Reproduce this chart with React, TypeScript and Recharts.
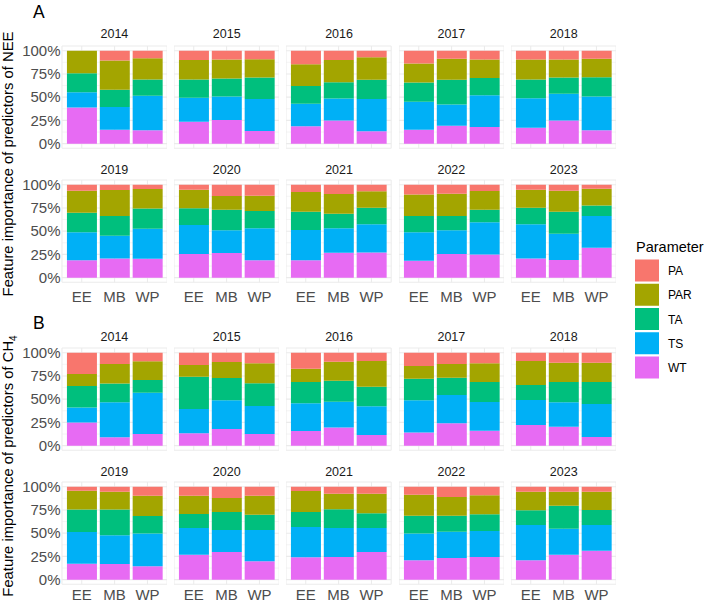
import React from 'react';
import { BarChart, Bar, XAxis, YAxis, CartesianGrid, ReferenceLine } from 'recharts';

// ---------- data ----------
const years = ['2014', '2015', '2016', '2017', '2018', '2019', '2020', '2021', '2022', '2023'];
const sites = ['EE', 'MB', 'WP'];
const parameters = ['PA', 'PAR', 'TA', 'TS', 'WT'];
const paramColors = ['#F8766D', '#A3A500', '#00BF7D', '#00B0F6', '#E76BF3'];
const yTicks = [0, 25, 50, 75, 100];
const yMinorTicks = [12.5, 37.5, 62.5, 87.5];

// Panel A: NEE  (order: year-major, site EE/MB/WP)
const neeWT = [38.9, 15, 14.3, 23.6, 25.4, 13.6, 18.6, 25, 13.2, 15, 19.3, 17.9, 17.1, 25, 14.3, 18.8, 20.6, 20.2, 25.3, 26.4, 18.8, 18.8, 26.7, 27.1, 18.1, 25.3, 24.9, 20.6, 19.1, 32.1];
const neeTS = [16.5, 24.3, 37.1, 25.7, 25.3, 34.3, 24.3, 23.6, 34.7, 30, 22.8, 34.2, 31.8, 28.6, 36.4, 29.9, 24.5, 32.5, 31.4, 24.5, 34.3, 32.5, 26.4, 30.3, 30.6, 25.6, 34.7, 36.8, 28.2, 34.3];
const neeTA = [20.3, 18.6, 17.5, 19.6, 19.3, 23.2, 19.2, 17.5, 20.7, 20.7, 26.5, 18.6, 20, 17.5, 20.7, 21, 21.3, 21.7, 18, 22, 18.7, 19.5, 15.5, 17.7, 17.7, 15.5, 13.3, 17.7, 23.5, 11.2];
const neePAR = [24.3, 31.4, 22.9, 21.1, 20.4, 19.6, 23.3, 23.9, 24.3, 20.4, 22.8, 19.7, 21.5, 19.3, 20, 23.8, 27.8, 20.9, 19.9, 14.8, 16.3, 21.3, 21.3, 17.7, 23.1, 23.9, 20.2, 19.5, 22.7, 18.1];
const neePA = [0, 10.7, 8.2, 10, 9.6, 9.3, 14.6, 10, 7.1, 13.9, 8.6, 9.6, 9.6, 9.6, 8.6, 6.5, 5.8, 4.7, 5.4, 12.3, 11.9, 7.9, 10.1, 7.2, 10.5, 9.7, 6.9, 5.4, 6.5, 4.3];

// Panel B: CH4
const ch4WT = [25, 9, 12.6, 13.3, 18, 12.6, 15.8, 19.4, 11.5, 14, 24.1, 16.1, 22.3, 20.4, 9.4, 17.2, 16.8, 14.3, 26.9, 29.7, 19.7, 24, 24.4, 29.7, 20.8, 23.3, 24.4, 20.8, 26.9, 31.2];
const ch4TS = [15.9, 37.7, 44.4, 26.2, 30.8, 30.1, 29.8, 27.9, 30.8, 34.8, 30.4, 30.9, 26.8, 26.3, 35.4, 34.1, 30.9, 35.2, 28.7, 23.7, 33.7, 32.6, 31.2, 25.9, 28.7, 28.3, 27.9, 38, 27.9, 27.6];
const ch4TA = [23.3, 20, 13.6, 34.7, 24, 24.3, 22.9, 22.6, 21.1, 23.2, 18.6, 21.5, 16.2, 21.8, 23.7, 24, 27.6, 19, 15, 19.4, 16.5, 16.2, 20, 15.7, 19.3, 17.2, 18, 15.8, 24.8, 16.1];
const ch4PAR = [12.9, 21.1, 20.1, 12.6, 17.2, 21.6, 14.3, 20.4, 27.7, 13.7, 14.7, 20.1, 25.8, 20.7, 20.7, 20.4, 19.3, 21.8, 19.7, 15, 20.4, 22.5, 16.9, 21.2, 22.6, 20.1, 20.4, 20, 15, 19.7];
const ch4PA = [22.9, 12.2, 9.3, 13.2, 10, 11.4, 17.2, 9.7, 8.9, 14.3, 12.2, 11.4, 8.9, 10.8, 10.8, 4.3, 5.4, 9.7, 9.7, 12.2, 9.7, 4.7, 7.5, 7.5, 8.6, 11.1, 9.3, 5.4, 5.4, 5.4];

// ---------- layout ----------
const FONT = '"Liberation Sans", Arial, Helvetica, sans-serif';
const PANEL_W = 105.2;
const PANEL_H = 102.3;
const COL_X = [61.8, 174.13, 286.46, 398.79, 511.12];
const ROW_Y = [45.85, 180.05, 348.05, 482.35];
const Y_AXIS_W = 61;
const X_AXIS_H = 30;
const PAD = 10;
const STRIP_BASE = [38.3, 173.7, 341.2, 476.2];

type Series = { WT: number[]; TS: number[]; TA: number[]; PAR: number[]; PA: number[] };
const neeSeries: Series = { WT: neeWT, TS: neeTS, TA: neeTA, PAR: neePAR, PA: neePA };
const ch4Series: Series = { WT: ch4WT, TS: ch4TS, TA: ch4TA, PAR: ch4PAR, PA: ch4PA };

function rowsFor(s: Series, yearIdx: number) {
  return sites.map((site, j) => {
    const k = yearIdx * 3 + j;
    return { site, WT: s.WT[k], TS: s.TS[k], TA: s.TA[k], PAR: s.PAR[k], PA: s.PA[k] };
  });
}

// bottom-to-top stacking order (ggplot puts first level on top)
const stackOrder = [...parameters].reverse();
const tickStyle = { fontSize: 15, fill: '#4D4D4D', fontFamily: FONT };

function Facet(props: { data: any[]; left: number; top: number; showY: boolean; showX: boolean; xMargin: number }) {
  const { data, left, top, showY, showX, xMargin } = props;
  const yw = showY ? Y_AXIS_W : 0;
  const xh = showX ? X_AXIS_H : 0;
  const w = PANEL_W + yw;
  const h = PANEL_H + xh;
  return (
    <div style={{ position: 'absolute', left: left - yw, top, width: w, height: h }}>
      {/* background layer: grid + axes (padded so tick labels are not clipped) */}
      <div style={{ position: 'absolute', left: 0, top: -PAD }}>
        <BarChart
          width={w}
          height={h + 2 * PAD}
          data={data}
          margin={{ top: PAD, right: 0, bottom: PAD, left: 0 }}
          barCategoryGap="5%"
        >
          <CartesianGrid stroke="#EBEBEB" strokeWidth={1.05} />
          {yMinorTicks.map((v) => (
            <ReferenceLine key={v} y={v} stroke="#EBEBEB" strokeWidth={0.55} />
          ))}
          <XAxis
            dataKey="site"
            type="category"
            padding={{ left: 3.3, right: 3.3 }}
            hide={!showX}
            height={xh}
            interval={0}
            tickSize={0}
            tickMargin={xMargin}
            axisLine={false}
            tickLine={false}
            tick={tickStyle}
          />
          <YAxis
            type="number"
            domain={[-5, 105]}
            allowDataOverflow
            ticks={yTicks}
            interval={0}
            hide={!showY}
            width={yw}
            tickFormatter={(v: number) => `${v}%`}
            tickSize={0}
            tickMargin={1.5}
            axisLine={false}
            tickLine={false}
            tick={tickStyle}
          />
        </BarChart>
      </div>
      {/* foreground layer: stacked bars */}
      <div style={{ position: 'absolute', left: 0, top: 0 }}>
        <BarChart width={w} height={h} data={data} margin={{ top: 0, right: 0, bottom: xh, left: yw }} barCategoryGap="5%">
          <XAxis dataKey="site" type="category" padding={{ left: 3.3, right: 3.3 }} hide />
          <YAxis type="number" domain={[-5, 105]} allowDataOverflow ticks={yTicks} hide />
          {stackOrder.map((p) => (
            <Bar key={p} dataKey={p} stackId="a" fill={paramColors[parameters.indexOf(p)]} isAnimationActive={false} />
          ))}
        </BarChart>
      </div>
    </div>
  );
}

export default function App() {
  const facets: React.ReactNode[] = [];
  const panels: { s: Series; rowBase: number }[] = [
    { s: neeSeries, rowBase: 0 },
    { s: ch4Series, rowBase: 2 },
  ];
  panels.forEach(({ s, rowBase }, pi) => {
    years.forEach((yr, yi) => {
      const r = Math.floor(yi / 5);
      const c = yi % 5;
      const row = rowBase + r;
      facets.push(
        <Facet
          key={`${pi}-${yr}`}
          data={rowsFor(s, yi)}
          left={COL_X[c]}
          top={ROW_Y[row]}
          showY={c === 0}
          showX={r === 1}
          xMargin={pi === 0 ? 9 : 5}
        />
      );
    });
  });

  return (
    <div style={{ position: 'absolute', left: 0, top: 0, width: 709, height: 609, background: '#fff', fontFamily: FONT }}>
      {facets}
      <svg width={709} height={609} style={{ position: 'absolute', left: 0, top: 0, pointerEvents: 'none' }}>
        {/* panel tags */}
        <text x={33} y={18} fontSize={17.5} fill="#000" fontFamily={FONT}>A</text>
        <text x={33} y={329} fontSize={17.5} fill="#000" fontFamily={FONT}>B</text>
        {/* strip labels */}
        {years.map((yr, yi) => {
          const r = Math.floor(yi / 5);
          const c = yi % 5;
          return [0, 2].map((rowBase) => (
            <text
              key={`${yr}-${rowBase}`}
              x={COL_X[c] + PANEL_W / 2}
              y={STRIP_BASE[rowBase + r]}
              textAnchor="middle"
              fontSize={12.5}
              fill="#1A1A1A"
              fontFamily={FONT}
            >
              {yr}
            </text>
          ));
        })}
        {/* y-axis titles */}
        <text x={13.3} y={164} transform="rotate(-90, 13.3, 164)" textAnchor="middle" fontSize={14.8} fill="#000" fontFamily={FONT}>
          Feature importance of predictors of NEE
        </text>
        <text x={13.3} y={466} transform="rotate(-90, 13.3, 466)" textAnchor="middle" fontSize={14.8} fill="#000" fontFamily={FONT}>
          Feature importance of predictors of CH<tspan fontSize={10} dy={4}>4</tspan>
        </text>
        {/* legend */}
        <text x={636} y={251.5} fontSize={14.5} fill="#000" fontFamily={FONT}>Parameter</text>
        {parameters.map((p, i) => (
          <g key={p}>
            <rect x={635} y={259.5 + i * 24.25} width={24} height={22} fill={paramColors[i]} />
            <text x={668} y={275 + i * 24.25} fontSize={12} fill="#000" fontFamily={FONT}>{p}</text>
          </g>
        ))}
      </svg>
    </div>
  );
}
